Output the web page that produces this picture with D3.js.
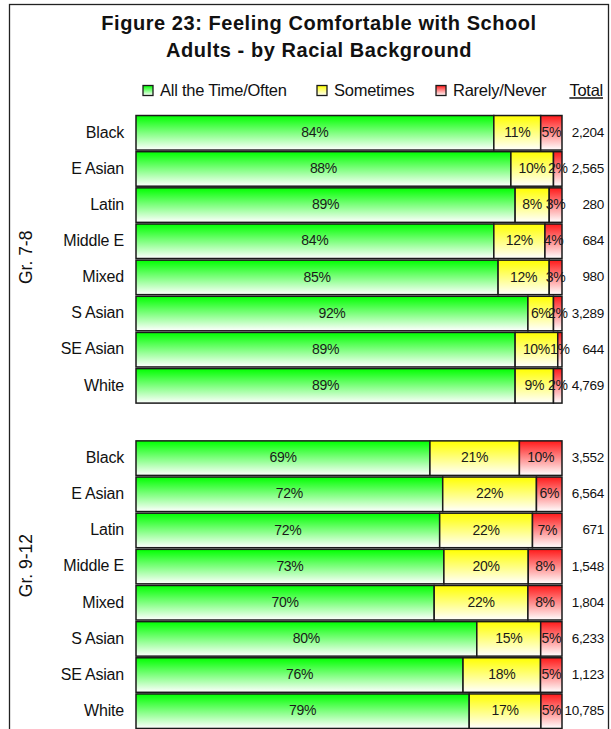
<!DOCTYPE html>
<html>
<head>
<meta charset="utf-8">
<script src="https://cdn.jsdelivr.net/npm/d3@7"></script>
<style>
  html, body { margin: 0; padding: 0; background: #fff; }
  svg { display: block; font-family: "Liberation Sans", Arial, sans-serif; }
</style>
</head>
<body>
<svg id="chart" width="611" height="729"></svg>
<script>
// ---------------- DATA ----------------
const titleLines = ["Figure 23: Feeling Comfortable with School", "Adults - by Racial Background"];
const seriesNames = ["All the Time/Often", "Sometimes", "Rarely/Never"];
const groups = ["Gr. 7-8", "Gr. 9-12"];
const categories = ["Black", "E Asian", "Latin", "Middle E", "Mixed", "S Asian", "SE Asian", "White"];

const often78     = [84, 88, 89, 84, 85, 92, 89, 89];
const sometimes78 = [11, 10,  8, 12, 12,  6, 10,  9];
const rarely78    = [ 5,  2,  3,  4,  3,  2,  1,  2];
const totals78    = [2204, 2565, 280, 684, 980, 3289, 644, 4769];

const often912     = [69, 72, 72, 73, 70, 80, 76, 79];
const sometimes912 = [21, 22, 22, 20, 22, 15, 18, 17];
const rarely912    = [10,  6,  7,  8,  8,  5,  5,  5];
const totals912    = [3552, 6564, 671, 1548, 1804, 6233, 1123, 10785];

const totalHeader = "Total";

// ---------------- BUILD ROWS ----------------
const groupData = [
  {often: often78, sometimes: sometimes78, rarely: rarely78, totals: totals78},
  {often: often912, sometimes: sometimes912, rarely: rarely912, totals: totals912}
];
const rows = [];
const slotKeys = [];
groupData.forEach((g, gi) => {
  if (gi > 0) slotKeys.push("gap" + gi);
  categories.forEach((c, i) => {
    const key = gi + "|" + c;
    slotKeys.push(key);
    rows.push({key, group: gi, cat: c, s0: g.often[i], s1: g.sometimes[i], s2: g.rarely[i], total: g.totals[i]});
  });
});

// ---------------- LAYOUT ----------------
const svg = d3.select("#chart");
const W = 611, H = 729;
const fillColors = ["#00ff00", "#ffff00", "#ff1a1a"];

const defs = svg.append("defs");
fillColors.forEach((col, i) => {
  const lg = defs.append("linearGradient").attr("id", "grad" + i)
    .attr("x1", 0).attr("y1", 0).attr("x2", 0).attr("y2", 1);
  lg.append("stop").attr("offset", "0%").attr("stop-color", col);
  lg.append("stop").attr("offset", "100%").attr("stop-color", "#ffffff");
});

// outer chart border (bottom runs off the picture)
svg.append("rect").attr("x", 9.5).attr("y", 4.5).attr("width", 599).attr("height", H + 20)
  .attr("fill", "none").attr("stroke", "#222").attr("stroke-width", 1.3);

// title
svg.append("text").attr("text-anchor", "middle")
  .attr("font-weight", "bold").attr("font-size", 20).attr("letter-spacing", 0.55)
  .attr("fill", "#111")
  .selectAll("tspan").data(titleLines).join("tspan")
  .attr("x", 319).attr("y", (d, i) => 29.5 + i * 27).text(d => d);

const step = 36.15;
const pad = 0.045;
const y0 = 113.9;
const y = d3.scaleBand().domain(slotKeys)
  .range([y0, y0 + step * (slotKeys.length + pad)])
  .paddingInner(pad).paddingOuter(pad);

const x = d3.scaleLinear().domain([0, 1]).range([136, 562]);

const stack = d3.stack().keys(["s0", "s1", "s2"]).offset(d3.stackOffsetExpand);
const series = stack(rows);

const barG = svg.append("g");
series.forEach((s, si) => {
  barG.append("g").selectAll("rect").data(s).join("rect")
    .attr("x", d => x(d[0]))
    .attr("y", d => y(d.data.key))
    .attr("width", d => x(d[1]) - x(d[0]))
    .attr("height", y.bandwidth())
    .attr("fill", `url(#grad${si})`)
    .attr("stroke", "#1a1a1a").attr("stroke-width", 1.5);
});

// percentage labels
series.forEach((s, si) => {
  barG.append("g").selectAll("text").data(s).join("text")
    .attr("x", d => (x(d[0]) + x(d[1])) / 2)
    .attr("y", d => y(d.data.key) + y.bandwidth() / 2)
    .attr("dy", "0.3em")
    .attr("text-anchor", "middle")
    .attr("font-size", 14)
    .attr("letter-spacing", -0.3)
    .attr("fill", "#1a1a1a")
    .text(d => d.data["s" + si] + "%");
});

// category labels
svg.append("g").selectAll("text").data(rows).join("text")
  .attr("x", 124)
  .attr("y", d => y(d.key) + y.bandwidth() / 2)
  .attr("dy", "0.3em")
  .attr("text-anchor", "end")
  .attr("font-size", 16)
  .attr("letter-spacing", -0.2)
  .attr("fill", "#111")
  .text(d => d.cat);

// totals
const fmt = d3.format(",");
svg.append("g").selectAll("text").data(rows).join("text")
  .attr("x", 604)
  .attr("y", d => y(d.key) + y.bandwidth() / 2)
  .attr("dy", "0.3em")
  .attr("text-anchor", "end")
  .attr("font-size", 13.5)
  .attr("letter-spacing", -0.3)
  .attr("fill", "#111")
  .text(d => fmt(d.total));

// group labels (rotated)
const groupLabelY = [
  (y("0|" + categories[3]) + y("0|" + categories[4]) + y.bandwidth()) / 2 - 2,
  y("1|" + categories[3]) + y.bandwidth() / 2 - 1
];
svg.append("g").selectAll("text").data(groups).join("text")
  .attr("transform", (d, i) => `translate(32,${groupLabelY[i]}) rotate(-90)`)
  .attr("text-anchor", "middle")
  .attr("font-size", 17.5)
  .attr("fill", "#111")
  .text(d => d);

// legend
const legendX = [143, 317, 436];
const legendY = 90.5;
const lg = svg.append("g");
seriesNames.forEach((name, i) => {
  lg.append("rect").attr("x", legendX[i]).attr("y", legendY - 5)
    .attr("width", 10).attr("height", 10)
    .attr("fill", `url(#grad${i})`).attr("stroke", "#1a1a1a").attr("stroke-width", 1.3);
  lg.append("text").attr("x", legendX[i] + 17).attr("y", legendY).attr("dy", "0.35em")
    .attr("font-size", 16.5).attr("letter-spacing", -0.25).attr("fill", "#111").text(name);
});
const totText = lg.append("text").attr("x", 603).attr("y", legendY).attr("dy", "0.35em")
  .attr("text-anchor", "end").attr("font-size", 16.5).attr("letter-spacing", -0.25)
  .attr("fill", "#111").text(totalHeader);
const tb = totText.node().getBBox();
lg.append("line").attr("x1", tb.x).attr("x2", tb.x + tb.width)
  .attr("y1", 98).attr("y2", 98).attr("stroke", "#111").attr("stroke-width", 1.6);
</script>
</body>
</html>
